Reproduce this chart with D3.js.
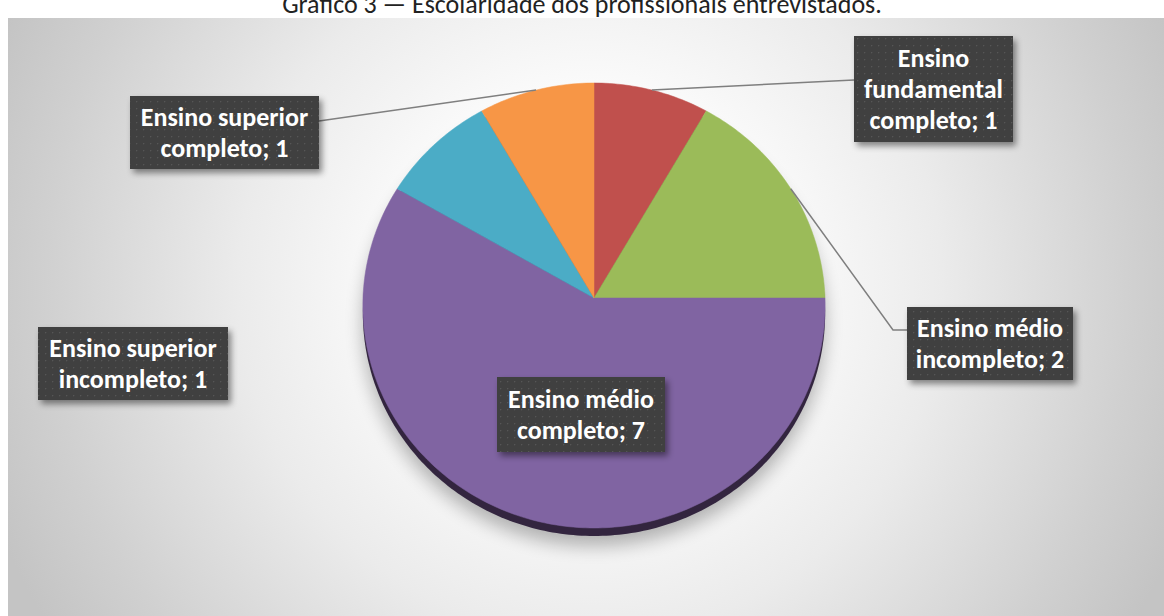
<!DOCTYPE html>
<html>
<head>
<meta charset="utf-8">
<script src="https://cdn.jsdelivr.net/npm/d3@7"></script>
<style>
  html, body { margin: 0; padding: 0; background: #ffffff; }
  svg { display: block; }
</style>
</head>
<body>
<svg id="chart" width="1164" height="616"></svg>
<script>
// Education level of the interviewed professionals
const titleText = "Gráfico 3 — Escolaridade dos profissionais entrevistados.";
const categories = [
  "Ensino fundamental completo",
  "Ensino médio incompleto",
  "Ensino médio completo",
  "Ensino superior incompleto",
  "Ensino superior completo"
];
const values = [1, 2, 7, 1, 1];
const sliceColors = ["#C0504D", "#9BBB59", "#8064A2", "#4BACC6", "#F79646"];

// Data label boxes (layout only)
const labelLayout = [
  { x: 854, y: 36,  w: 159, h: 106, anchor: [854, 80] },
  { x: 907, y: 307, w: 166, h: 73,  anchor: [907, 330], elbow: [893, 330] },
  { x: 497, y: 377, w: 168, h: 75 },
  { x: 38,  y: 327, w: 190, h: 73 },
  { x: 130, y: 96,  w: 189, h: 73,  anchor: [319, 121] }
];

const W = 1164, H = 616;
const svg = d3.select("#chart");
const defs = svg.append("defs");

// Plot area background: soft radial light
const bg = defs.append("radialGradient")
  .attr("id", "bgGrad").attr("gradientUnits", "userSpaceOnUse")
  .attr("cx", 590).attr("cy", 285).attr("r", 640);
[[0, "#ffffff"], [0.3, "#fbfbfb"], [0.55, "#ebebeb"], [0.85, "#d0d0d0"], [1, "#c4c4c4"]]
  .forEach(([o, c]) => bg.append("stop").attr("offset", o).attr("stop-color", c));

// Dotted fill for data labels
const pat = defs.append("pattern").attr("id", "dots")
  .attr("patternUnits", "userSpaceOnUse").attr("width", 7).attr("height", 7);
pat.append("rect").attr("width", 7).attr("height", 7).attr("fill", "#3f3f3f");
pat.append("rect").attr("x", 3).attr("y", 3).attr("width", 1.3).attr("height", 1.3).attr("fill", "#565656");

const boxShadow = defs.append("filter").attr("id", "boxShadow")
  .attr("x", "-20%").attr("y", "-20%").attr("width", "140%").attr("height", "150%");
boxShadow.append("feDropShadow").attr("dx", 3).attr("dy", 4).attr("stdDeviation", 3)
  .attr("flood-color", "#000").attr("flood-opacity", 0.45);

const pieShadow = defs.append("filter").attr("id", "pieShadow")
  .attr("x", "-30%").attr("y", "-30%").attr("width", "160%").attr("height", "160%");
pieShadow.append("feGaussianBlur").attr("stdDeviation", 9);

svg.append("rect").attr("x", 8).attr("y", 18).attr("width", W - 8).attr("height", H - 18)
  .attr("fill", "url(#bgGrad)");

// Title (partly above the visible area)
svg.append("text").attr("x", 582).attr("y", 13).attr("text-anchor", "middle")
  .attr("font-family", "Carlito, Calibri, Lato, sans-serif").attr("font-size", 26)
  .attr("fill", "#222").text(titleText);

// Tilted pie: projective mapping of the unit disc
const cx = 594, cy = 298, rx = 231, ryK = 222.25, persp = -0.0337, depth = 8;
function proj(theta, r) {
  const x = r * Math.sin(theta), y = -r * Math.cos(theta);
  const d = 1 + persp * y;
  return [cx + rx * x / d, cy + ryK * y / d];
}
function rimPoints(a0, a1) {
  const n = Math.max(2, Math.ceil((a1 - a0) / (Math.PI / 180)));
  return d3.range(n + 1).map(i => proj(a0 + (a1 - a0) * i / n, 1));
}
const line = d3.line();
const arcs = d3.pie().sort(null).value(d => d).startAngle(0).endAngle(2 * Math.PI)(values);

const pieG = svg.append("g");
const disc = line(rimPoints(0, 2 * Math.PI)) + "Z";

// soft shadow below the disc
pieG.append("path").attr("d", disc).attr("transform", `translate(0,${depth + 10})`)
  .attr("fill", "#000").attr("opacity", 0.28).attr("filter", "url(#pieShadow)");
// side wall
pieG.append("path").attr("d", disc).attr("transform", `translate(0,${depth})`)
  .attr("fill", "#33253f");

pieG.selectAll("path.slice").data(arcs).join("path")
  .attr("class", "slice")
  .attr("d", a => line([[cx, cy], ...rimPoints(a.startAngle, a.endAngle)]) + "Z")
  .attr("fill", (a, i) => sliceColors[i])
  .attr("stroke", (a, i) => sliceColors[i]).attr("stroke-width", 0.5);

// Leader lines
const leaderG = svg.append("g");
arcs.forEach((a, i) => {
  const L = labelLayout[i];
  if (!L.anchor) return;
  const mid = proj((a.startAngle + a.endAngle) / 2, 1);
  const pts = [mid];
  if (L.elbow) pts.push(L.elbow);
  pts.push(L.anchor);
  leaderG.append("path").attr("d", line(pts)).attr("fill", "none")
    .attr("stroke", "#7f7f7f").attr("stroke-width", 1.5);
});

// Data labels
const fontSize = 26, lineH = 31;
const labelG = svg.append("g")
  .attr("font-family", "Carlito, Calibri, Lato, sans-serif")
  .attr("font-weight", "bold").attr("font-size", fontSize).attr("fill", "#ffffff");

const measure = svg.append("text").attr("font-family", "Carlito, Calibri, Lato, sans-serif")
  .attr("font-weight", "bold").attr("font-size", fontSize).attr("opacity", 0);
function wrap(str, maxW) {
  const words = str.split(" ");
  const lines = [];
  let cur = "";
  words.forEach(w => {
    const trial = cur ? cur + " " + w : w;
    measure.text(trial);
    if (cur && measure.node().getComputedTextLength() > maxW) { lines.push(cur); cur = w; }
    else cur = trial;
  });
  if (cur) lines.push(cur);
  return lines;
}

arcs.forEach((a, i) => {
  const L = labelLayout[i];
  const g = labelG.append("g");
  g.append("rect").attr("x", L.x).attr("y", L.y).attr("width", L.w).attr("height", L.h)
    .attr("fill", "url(#dots)").attr("filter", "url(#boxShadow)");
  const lines = wrap(`${categories[i]}; ${values[i]}`, L.w - 6);
  const midY = L.y + L.h / 2;
  lines.forEach((t, j) => {
    g.append("text").attr("x", L.x + L.w / 2)
      .attr("y", midY + (j - (lines.length - 1) / 2) * lineH + 9)
      .attr("text-anchor", "middle").text(t);
  });
});
measure.remove();
</script>
</body>
</html>
